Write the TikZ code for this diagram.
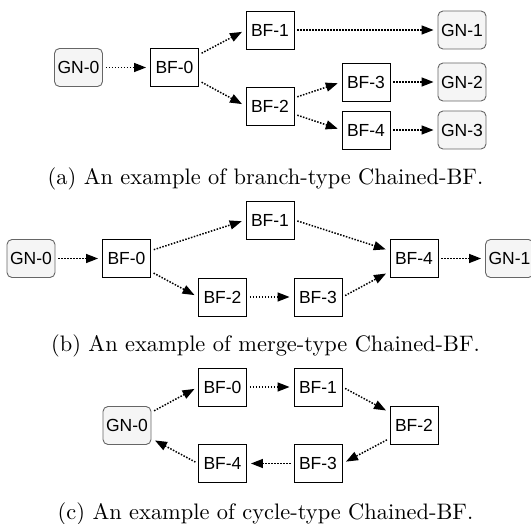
\documentclass[tikz,border=0pt]{standalone}
\usepackage{fontspec}
\newfontfamily\boxfont{Liberation Sans}
\usetikzlibrary{arrows.meta}
\definecolor{gnfill}{HTML}{F5F5F5}
\definecolor{gnline}{HTML}{666666}
\begin{document}
\begin{tikzpicture}[x=1pt,y=-1pt,
  bfbox/.style={draw=black, line width=0.9pt, fill=white,
    minimum width=48pt, minimum height=38pt, inner sep=0pt,
    font=\boxfont\fontsize{17.5}{20}\selectfont},
  gnbox/.style={bfbox, draw=gnline, fill=gnfill, rounded corners=5pt},
  flow/.style={line width=1.5pt, dash pattern=on 1.5pt off 1.5pt,
    -{Triangle[length=12pt,width=9pt]}, shorten <=3pt, shorten >=4pt},
  captext/.style={scale=2.24, font=\fontsize{10}{12}\selectfont,
    inner sep=0pt, anchor=base}]
\useasboundingbox (0,0) rectangle (531,524);

% (a) branch type
\node[gnbox] (gnA0) at (78.5,67.5) {GN-0};
\node[bfbox] (bfA0) at (174.5,67.5) {BF-0};
\node[bfbox] (bfA1) at (270,30) {BF-1};
\node[bfbox] (bfA2) at (270,106) {BF-2};
\node[bfbox] (bfA3) at (366,82) {BF-3};
\node[bfbox] (bfA4) at (366,130) {BF-4};
\node[gnbox] (gnA1) at (462,30) {GN-1};
\node[gnbox] (gnA2) at (462,82) {GN-2};
\node[gnbox] (gnA3) at (462,130) {GN-3};
\draw[flow] (gnA0) -- (bfA0);
\draw[flow] (bfA0) -- (bfA1.west);
\draw[flow] (bfA0) -- (bfA2.west);
\draw[flow] (bfA1) -- (gnA1);
\draw[flow] (bfA2) -- (bfA3.west);
\draw[flow] (bfA2) -- (bfA4.west);
\draw[flow] (bfA3) -- (gnA2);
\draw[flow] (bfA4) -- (gnA3);
\node[captext] (capA) at (265.5,185) {(a) An example of branch-type Chained-BF.};

% (b) merge type
\node[gnbox] (gnB0) at (31,258.5) {GN-0};
\node[bfbox] (bfB0) at (126.5,258.5) {BF-0};
\node[bfbox] (bfB1) at (270,220) {BF-1};
\node[bfbox] (bfB2) at (222.5,297) {BF-2};
\node[bfbox] (bfB3) at (318,297) {BF-3};
\node[bfbox] (bfB4) at (414,258.5) {BF-4};
\node[gnbox] (gnB1) at (509.5,258.5) {GN-1};
\draw[flow] (gnB0) -- (bfB0);
\draw[flow] (bfB0) -- (bfB1.west);
\draw[flow] (bfB0) -- (bfB2.west);
\draw[flow] (bfB2) -- (bfB3);
\draw[flow] (bfB1.east) -- (bfB4);
\draw[flow] (bfB3.east) -- (bfB4);
\draw[flow] (bfB4) -- (gnB1);
\node[captext] (capB) at (265.5,352) {(b) An example of merge-type Chained-BF.};

% (c) cycle type
\node[gnbox] (gnC0) at (127,425.5) {GN-0};
\node[bfbox] (bfC0) at (222.5,387) {BF-0};
\node[bfbox] (bfC1) at (318,387) {BF-1};
\node[bfbox] (bfC2) at (414,425.5) {BF-2};
\node[bfbox] (bfC3) at (318,463.5) {BF-3};
\node[bfbox] (bfC4) at (222.5,463.5) {BF-4};
\draw[flow] (gnC0) -- (bfC0.west);
\draw[flow] (bfC0) -- (bfC1);
\draw[flow] (bfC1.east) -- (bfC2);
\draw[flow] (bfC2) -- (bfC3.east);
\draw[flow] (bfC3) -- (bfC4);
\draw[flow] (bfC4.west) -- (gnC0);
\node[captext] (capC) at (265.5,519) {(c) An example of cycle-type Chained-BF.};
\end{tikzpicture}
\end{document}
